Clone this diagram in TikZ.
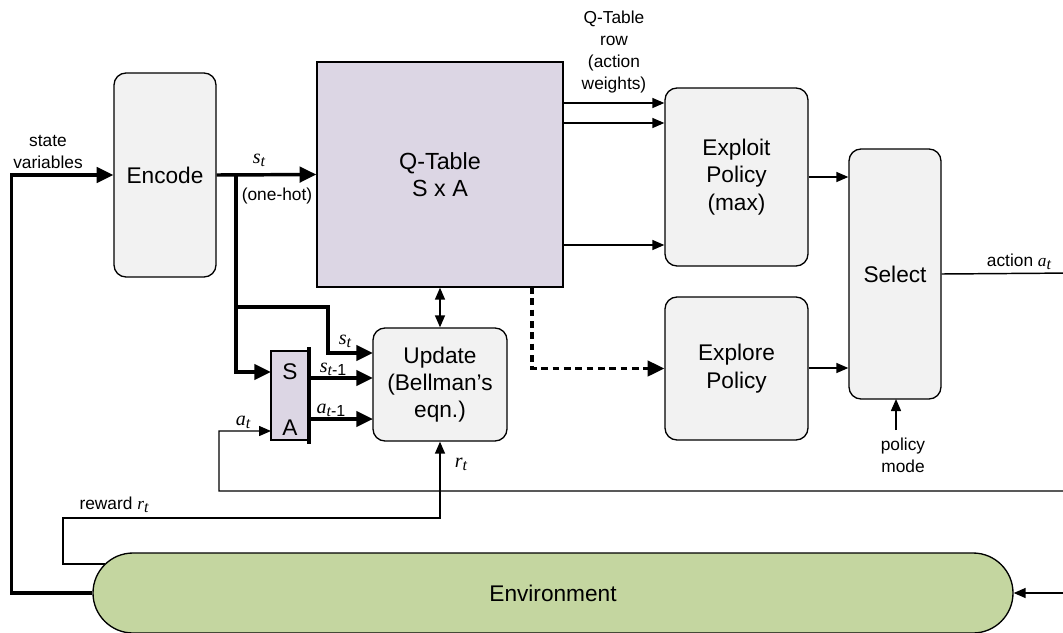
\documentclass[tikz,border=0pt]{standalone}
\usepackage{fontspec}
\setmainfont{Liberation Sans}
\newfontfamily\serf{Liberation Serif}
\usetikzlibrary{arrows.meta}
\definecolor{boxfill}{HTML}{F2F2F2}
\definecolor{qfill}{HTML}{DCD6E4}
\definecolor{envfill}{HTML}{C4D6A0}
\newcommand\var[2]{{\serf\itshape #1}\raisebox{-0.3ex}{\fontsize{12}{12}\selectfont #2}}
\newcommand\itv[1]{{\serf\itshape #1}}
\begin{document}
\begin{tikzpicture}[x=0.75pt,y=-0.75pt,
  blk/.style={draw, line width=1pt, fill=boxfill, rounded corners=9pt, inner sep=0pt, align=center,
    font=\fontsize{17}{20.5}\selectfont},
  lbl/.style={inner sep=0pt, align=center, font=\fontsize{13}{16.5}\selectfont},
  mlbl/.style={inner sep=0pt, font=\fontsize{15}{17}\selectfont},
  thinarr/.style={line width=1.1pt, -{Triangle[length=9pt,width=7.5pt]}},
  thickarr/.style={line width=2.6pt, -{Triangle[length=12.5pt,width=11.5pt]}},
  thinline/.style={line width=1.1pt},
  thickline/.style={line width=2.6pt}]
\useasboundingbox (0,0) rectangle (1063,632);

% blocks
\node[blk, minimum width=76.5pt, minimum height=153pt] (enc) at (165,175) {Encode};
\node[draw, line width=1pt, fill=qfill, inner sep=0pt, align=center, minimum width=184.5pt, minimum height=168.75pt,
  font=\fontsize{17.5}{20.5}\selectfont] (qt) at (440,174.5) {Q-Table\\S x A};
\node[blk, minimum width=107.25pt, minimum height=133.5pt] (expl) at (736.5,177) {Exploit\\Policy\\(max)};
\node[blk, minimum width=107.25pt, minimum height=107.25pt] (explr) at (736.5,368.5) {Explore\\Policy};
\node[blk, minimum width=69pt, minimum height=187.5pt] (sel) at (895,274) {Select};
\node[blk, minimum width=100.5pt, minimum height=84.75pt] (upd) at (440,384.5) {Update\\(Bellman's\\eqn.)};
\node[draw, line width=1pt, fill=qfill, inner sep=0pt, minimum width=28.5pt, minimum height=66.75pt] (sa) at (290,395.5) {};
\node[font=\fontsize{17}{20}\selectfont, inner sep=0pt] (sS) at (290,372) {S};
\node[font=\fontsize{17}{20}\selectfont, inner sep=0pt] (sA) at (290,428) {A};
\node[draw, line width=1pt, fill=envfill, rounded corners=30pt, inner sep=0pt, minimum width=690pt, minimum height=60pt,
  font=\fontsize{17}{20}\selectfont] (env) at (553,593) {Environment};

% thick bar on the S/A register
\coordinate (barT) at (309,347);
\coordinate (barB) at (309,444);
\draw[line width=3.2pt] (barT) -- (barB);

% coordinates
\coordinate (br) at (236,175);
\coordinate (br2) at (236,307);
\coordinate (saS) at (271,372);
\coordinate (saA) at (271,431);
\coordinate (upS) at (373,353);
\coordinate (upS1) at (373,378);
\coordinate (upA1) at (373,419);
\coordinate (saS1) at (309,378);
\coordinate (saA1) at (309,419);
\coordinate (rightTop) at (1075,273);
\coordinate (rightEnv) at (1075,593);
\coordinate (envR) at (105,564);
\coordinate (dashT) at (532,287);
\coordinate (pm) at (896,430);
\coordinate (pmT) at (896,399);

% state variables
\draw[thickarr] (env.west) -- ++(-81,0) |- (enc.west);
\node[lbl] (sv) at (48,152) {state\\variables};

% s_t to Q-table
\draw[thickarr] (enc.east) -- (qt.west);
\node[mlbl] (stl) at (259,160) {\var{s}{\itv{t}}};
\node[lbl] (oh) at (277,196) {(one-hot)};

% branch to S/A and Update
\draw[thickarr] (br) |- (saS);
\draw[thickarr] (br2) -- (328,307) |- (upS);
\node[mlbl] (stl2) at (345,341) {\var{s}{\itv{t}}};
\draw[thickarr] (saS1) -- (upS1);
\node[mlbl] (st1l) at (333,369) {\var{s}{\itv{t}-1}};
\draw[thickarr] (saA1) -- (upA1);
\node[mlbl] (at1l) at (331,410) {\var{a}{\itv{t}-1}};

% Q-table row arrows
\draw[thinarr] (qt.east |- 0,103) -- (expl.west |- 0,103);
\draw[thinarr] (qt.east |- 0,123) -- (expl.west |- 0,123);
\draw[thinarr] (qt.east |- 0,245) -- (expl.west |- 0,245);
\node[lbl] (qrow) at (614,52) {Q-Table\\row\\(action\\weights)};

% Q-table <-> Update
\draw[line width=1.1pt, {Triangle[length=9pt,width=7.5pt]}-{Triangle[length=9pt,width=7.5pt]}] (qt.south) -- (upd.north);

% dashed to Explore
\draw[line width=2.4pt, dash pattern=on 5pt off 3.5pt, -{Triangle[length=12.5pt,width=11.5pt]}] (dashT) |- (explr.west);

% policies to Select
\draw[thinarr] (expl.east) -- (sel.west |- expl.east);
\draw[thinarr] (explr.east |- 0,368) -- (sel.west |- 0,368);

% policy mode
\draw[thinarr] (pm) -- (pmT);
\node[lbl] (pml) at (903,455) {policy\\mode};

% action output and feedback
\draw[thinarr] (sel.east) -- (rightTop) |- (219,491) |- (saA);
\node[mlbl] (actl) at (1019,262) {\fontsize{13}{16}\selectfont action \var{a}{\itv{t}}};
\node[mlbl] (atl) at (243,422) {\var{a}{\itv{t}}};
\draw[thinarr] (rightEnv) -- (env.east);

% reward
\draw[thinarr] (envR) -- (63,564) |- (440,518) -- (upd.south);
\node[mlbl] (rwl) at (114,505) {\fontsize{13}{16}\selectfont reward \var{r}{\itv{t}}};
\node[mlbl] (rtl) at (461,464) {\var{r}{\itv{t}}};
\end{tikzpicture}
\end{document}
